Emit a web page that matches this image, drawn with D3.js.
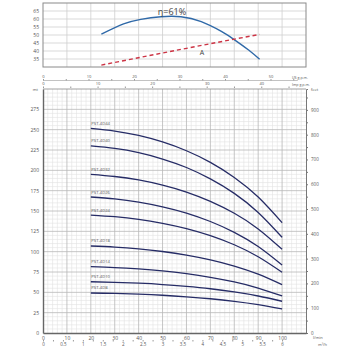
<!DOCTYPE html>
<html><head><meta charset="utf-8">
<script src="https://cdn.jsdelivr.net/npm/d3@7"></script>
<style>body{margin:0;background:#fff}svg{display:block}text{font-family:"Open Sans",sans-serif}</style>
</head><body><svg id="c" width="350" height="350"></svg>
<script>
// ---- data ----
const flow = [20, 30, 40, 50, 60, 70, 80, 90, 100];
const models = ["PST-4D44", "PST-4D40", "PST-4D32", "PST-4D26", "PST-4D24", "PST-4D18", "PST-4D14", "PST-4D10", "PST-4D8"];
const head4D44 = [251.5, 248.3, 242.9, 234.9, 224.1, 209.8, 191.3, 167.1, 135.6];
const head4D40 = [230, 226.9, 221.7, 213.9, 203.5, 189.5, 171.7, 148.2, 117.6];
const head4D32 = [195, 192.4, 188.2, 181.8, 173.3, 161.8, 147.2, 128, 102.9];
const head4D26 = [167.2, 164.9, 161, 155.2, 147.5, 137.1, 123.8, 106.3, 83.6];
const head4D24 = [145, 143, 139.8, 134.9, 128.4, 119.7, 108.5, 93.7, 74.6];
const head4D18 = [107, 105.7, 103.5, 100.2, 95.8, 89.9, 82.3, 72.3, 59.4];
const head4D14 = [81.5, 80.5, 78.8, 76.4, 73, 68.5, 62.8, 55.3, 45.5];
const head4D10 = [63, 62.3, 61.2, 59.6, 57.3, 54.4, 50.5, 45.5, 39];
const head4D8 = [49.2, 48.6, 47.7, 46.4, 44.5, 42.1, 39, 34.9, 29.5];
const heads = [head4D44, head4D40, head4D32, head4D26, head4D24, head4D18, head4D14, head4D10, head4D8];

const effFlow = [24.4, 33.7, 40.9, 49.3, 57.7, 66.2, 74.6, 80.1, 86, 90.6];
const effValue = [50.5, 56.9, 59.8, 61.4, 61.4, 58.3, 52.2, 47.0, 40.6, 34.8];
const aFlow = [24.4, 57.7, 90.6];
const aValue = [31.2, 41, 50.4];

const headTicks = [0, 25, 50, 75, 100, 125, 150, 175, 200, 225, 250, 275];
const feetTicks = [0, 100, 200, 300, 400, 500, 600, 700, 800, 900];
const flowTicks = [0, 10, 20, 30, 40, 50, 60, 70, 80, 90, 100];
const m3hTicks = [0, 0.5, 1, 1.5, 2, 2.5, 3, 3.5, 4, 4.5, 5, 5.5, 6];
const usTicks = [0, 10, 20, 30, 40, 50];
const impTicks = [0, 10, 20, 30, 40];
const effTicks = [35, 40, 45, 50, 55, 60, 65];

// ---- layout ----
const L = 43, R = 306;
const svg = d3.select("#c");
const x = d3.scaleLinear([0, 110], [L, R]);
const yTop = d3.scaleLinear([30, 70], [67, 3]);
const y = d3.scaleLinear([0, 300], [333, 89]);
const yFt = d3.scaleLinear([0, 300 / 0.3048], [333, 89]);
const xUS = d3.scaleLinear([0, 57.8], [L, R]);
const xImp = d3.scaleLinear([0, 48.2], [L, R]);
const xM3 = d3.scaleLinear([0, 6.6], [L, R]);
const txt = "#555";

// ---- top chart ----
const topG = svg.append("g");
topG.selectAll(".vg").data(d3.range(10, 110, 10)).join("line")
  .attr("x1", d => x(d)).attr("x2", d => x(d)).attr("y1", yTop(70)).attr("y2", yTop(30))
  .attr("stroke", "#cfcfcf").attr("stroke-width", 0.8);
topG.selectAll(".hg").data(effTicks).join("line")
  .attr("x1", L).attr("x2", R).attr("y1", d => yTop(d)).attr("y2", d => yTop(d))
  .attr("stroke", "#cfcfcf").attr("stroke-width", 0.8);
topG.append("rect").attr("x", L).attr("y", yTop(70)).attr("width", R - L).attr("height", yTop(30) - yTop(70))
  .attr("fill", "none").attr("stroke", "#8a8a8a").attr("stroke-width", 1);
const topAx = topG.append("g").attr("transform", `translate(${L},0)`)
  .call(d3.axisLeft(yTop).tickValues(effTicks).tickSize(0).tickPadding(4));
topAx.select(".domain").remove();
topAx.selectAll("text").attr("font-size", 5).attr("fill", txt);

const lineTop = d3.line().x(d => x(d[0])).y(d => yTop(d[1])).curve(d3.curveNatural);
topG.append("path").datum(effFlow.map((f, i) => [f, effValue[i]])).attr("d", lineTop)
  .attr("fill", "none").attr("stroke", "#2f69a8").attr("stroke-width", 1.4);
topG.append("path").datum(aFlow.map((f, i) => [f, aValue[i]])).attr("d", lineTop)
  .attr("fill", "none").attr("stroke", "#cc3344").attr("stroke-width", 1.4).attr("stroke-dasharray", "4,3");
topG.append("text").attr("x", 172).attr("y", 15).attr("text-anchor", "middle").attr("font-size", 9).attr("fill", "#444").text("η=61%");
topG.append("text").attr("x", 202).attr("y", 55).attr("text-anchor", "middle").attr("font-size", 7).attr("fill", "#444").text("A");

// ---- US / Imp scales ----
const usAx = svg.append("g").attr("transform", "translate(0,80.5)")
  .call(d3.axisTop(xUS).tickValues(d3.range(0, 57, 5)).tickSize(1.5).tickPadding(1.5).tickFormat(d => usTicks.includes(d) ? d : ""));
usAx.select(".domain").attr("stroke", "#999").attr("stroke-width", 0.6).attr("d", `M${L},0H${xUS(56)}`);
usAx.selectAll("line").attr("stroke", "#999");
usAx.selectAll("text").attr("font-size", 4).attr("fill", txt);
svg.append("text").attr("x", 292).attr("y", 79).attr("font-size", 3.6).attr("fill", txt).text("US g.p.m.");

const impAx = svg.append("g").attr("transform", "translate(0,88)")
  .call(d3.axisTop(xImp).tickValues(d3.range(0, 48, 5)).tickSize(1.5).tickPadding(1.5).tickFormat(d => impTicks.includes(d) ? d : ""));
impAx.select(".domain").remove();
impAx.selectAll("line").attr("stroke", "#999");
impAx.selectAll("text").attr("font-size", 4).attr("fill", txt);
svg.append("text").attr("x", 292).attr("y", 86).attr("font-size", 3.6).attr("fill", txt).text("Imp g.p.m.");

// ---- main grid ----
const g = svg.append("g");
g.selectAll(".mvx").data(d3.range(0, 111, 2).filter(d => d % 10 !== 0)).join("line")
  .attr("x1", d => x(d)).attr("x2", d => x(d)).attr("y1", y(300)).attr("y2", y(0))
  .attr("stroke", "#e2e2e2").attr("stroke-width", 0.6);
g.selectAll(".mhy").data(d3.range(0, 301, 5).filter(d => d % 25 !== 0)).join("line")
  .attr("x1", L).attr("x2", R).attr("y1", d => y(d)).attr("y2", d => y(d))
  .attr("stroke", "#e2e2e2").attr("stroke-width", 0.6);
g.selectAll(".Mvx").data(d3.range(10, 110, 10)).join("line")
  .attr("x1", d => x(d)).attr("x2", d => x(d)).attr("y1", y(300)).attr("y2", y(0))
  .attr("stroke", "#b8b8b8").attr("stroke-width", 0.8);
g.selectAll(".Mhy").data(d3.range(25, 300, 25)).join("line")
  .attr("x1", L).attr("x2", R).attr("y1", d => y(d)).attr("y2", d => y(d))
  .attr("stroke", "#b8b8b8").attr("stroke-width", 0.8);
g.append("line").attr("x1", L).attr("x2", R).attr("y1", y(300)).attr("y2", y(300)).attr("stroke", "#888").attr("stroke-width", 0.8);

// ---- curves ----
const line = d3.line().x(d => x(d[0])).y(d => y(d[1])).curve(d3.curveNatural);
heads.forEach((h, i) => {
  svg.append("path").datum(flow.map((f, j) => [f, h[j]])).attr("d", line)
    .attr("fill", "none").attr("stroke", "#262c66").attr("stroke-width", 1.3);
  svg.append("text").attr("x", x(flow[0]) + 0.5).attr("y", y(h[0]) - 3.5)
    .attr("font-size", 4.2).attr("fill", txt).text(models[i]);
});

// ---- axes ----
const axL = svg.append("g").attr("transform", `translate(${L},0)`)
  .call(d3.axisLeft(y).tickValues(headTicks).tickSize(0).tickPadding(4));
axL.select(".domain").attr("stroke", "#666").attr("stroke-width", 1.4);
axL.selectAll("text").attr("font-size", 5).attr("fill", txt);
svg.append("text").attr("x", 38).attr("y", 90.5).attr("text-anchor", "end").attr("font-size", 4).attr("fill", txt).text("mt");

const axR = svg.append("g").attr("transform", `translate(${R},0)`)
  .call(d3.axisRight(yFt).tickValues(d3.range(0, 951, 50)).tickSize(2).tickPadding(3).tickFormat(d => feetTicks.includes(d) ? d : ""));
axR.select(".domain").attr("stroke", "#777").attr("stroke-width", 1);
axR.selectAll("line").attr("stroke", "#777");
axR.selectAll("text").attr("font-size", 4.5).attr("fill", txt);
svg.append("text").attr("x", 311).attr("y", 90.5).attr("font-size", 4).attr("fill", txt).text("feet");

const axB = svg.append("g").attr("transform", "translate(0,333)")
  .call(d3.axisBottom(x).tickValues(flowTicks).tickSize(0).tickPadding(3));
axB.select(".domain").attr("stroke", "#666").attr("stroke-width", 1.4);
axB.selectAll("text").attr("font-size", 5).attr("fill", txt);
svg.append("text").attr("x", 313).attr("y", 339).attr("font-size", 4).attr("fill", txt).text("l/min");

const axM = svg.append("g").attr("transform", "translate(0,340)")
  .call(d3.axisBottom(xM3).tickValues(d3.range(0, 6.01, 0.25)).tickSize(1.5).tickPadding(1.5)
    .tickFormat(d => m3hTicks.includes(d) ? d : ""));
axM.select(".domain").remove();
axM.selectAll("line").attr("stroke", "#999");
axM.selectAll("text").attr("font-size", 4.5).attr("fill", txt);
svg.append("text").attr("x", 318).attr("y", 346).attr("font-size", 4).attr("fill", txt).text("m³/h");
</script></body></html>
